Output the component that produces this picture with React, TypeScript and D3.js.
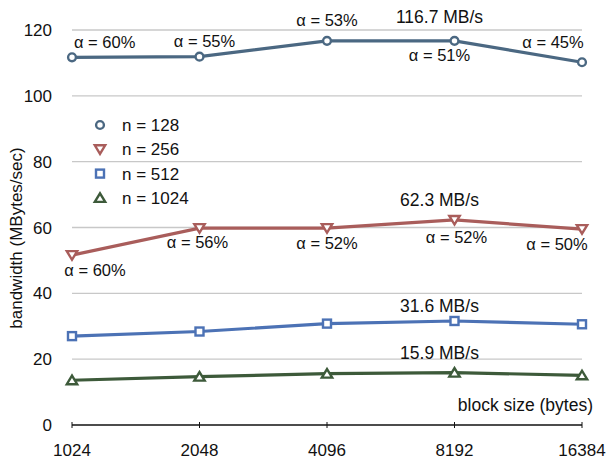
import React from "react";
import * as d3 from "d3";

const blockSizes = ["1024", "2048", "4096", "8192", "16384"];
const yTicks = [0, 20, 40, 60, 80, 100, 120];
const seriesNames = ["n = 128", "n = 256", "n = 512", "n = 1024"];
const n128 = [111.7, 111.9, 116.7, 116.7, 110.2];
const n256 = [51.6, 59.8, 59.8, 62.3, 59.5];
const n512 = [27.0, 28.4, 30.8, 31.6, 30.6];
const n1024 = [13.6, 14.7, 15.6, 15.9, 15.1];
const colors = ["#4b6882", "#a95d5b", "#4c72b5", "#3d5a3a"];
const markers = ["circle", "triangleDown", "square", "triangleUp"];

// annotations: [seriesIndex, pointIndex, text, dx, dy, anchor, big]
const annotations: [number, number, string, number, number, string, boolean][] = [
  [0, 0, "α = 60%", 2, -9.5, "start", false],
  [0, 1, "α = 55%", 5, -9.5, "middle", false],
  [0, 2, "α = 53%", 0, -15, "middle", false],
  [0, 3, "116.7 MB/s", -15, -18, "middle", true],
  [0, 3, "α = 51%", -15, 20, "middle", false],
  [0, 4, "α = 45%", -29, -14, "middle", false],
  [1, 0, "α = 60%", 23, 21, "middle", false],
  [1, 1, "α = 56%", -2, 20, "middle", false],
  [1, 2, "α = 52%", 0, 21, "middle", false],
  [1, 3, "62.3 MB/s", -15, -14, "middle", true],
  [1, 3, "α = 52%", 2, 23, "middle", false],
  [1, 4, "α = 50%", -25, 21, "middle", false],
  [2, 3, "31.6 MB/s", -15, -9, "middle", true],
  [3, 3, "15.9 MB/s", -15, -14, "middle", true],
];

const W = 610, H = 459;

function Marker({ type, x, y, color }: { type: string; x: number; y: number; color: string }) {
  const sw = 2.4;
  if (type === "circle")
    return <circle cx={x} cy={y} r={3.9} fill="white" stroke={color} strokeWidth={sw} />;
  if (type === "square")
    return <rect x={x - 4} y={y - 4} width={8} height={8} fill="white" stroke={color} strokeWidth={sw} />;
  if (type === "triangleDown")
    return <path d={`M${x - 5.2},${y - 4} L${x + 5.2},${y - 4} L${x},${y + 4.6} Z`} fill="white" stroke={color} strokeWidth={sw} strokeLinejoin="miter" />;
  return <path d={`M${x - 5.2},${y + 4} L${x + 5.2},${y + 4} L${x},${y - 4.6} Z`} fill="white" stroke={color} strokeWidth={sw} strokeLinejoin="miter" />;
}

export default function App() {
  const series = [n128, n256, n512, n1024];
  const x = d3.scalePoint<string>().domain(blockSizes).range([72, 582]);
  const y = d3.scaleLinear().domain([0, 120]).range([425, 30]);
  const line = d3.line<[string, number]>().x((d) => x(d[0])!).y((d) => y(d[1]));
  const font = "'Liberation Sans', Arial, sans-serif";
  return (
    <svg width={W} height={H} style={{ position: "absolute", left: 0, top: 0, background: "white" }} fontFamily={font}>
      {yTicks.filter((t) => t > 0).map((t) => (
        <line key={t} x1={72} x2={582} y1={y(t)} y2={y(t)} stroke="#c8c8c8" strokeWidth={1.3} />
      ))}
      <line x1={72} x2={582} y1={y(0)} y2={y(0)} stroke="#111" strokeWidth={1.3} />
      {blockSizes.map((b) => (
        <line key={b} x1={x(b)} x2={x(b)} y1={y(0) - 3} y2={y(0) + 3} stroke="#111" strokeWidth={1} />
      ))}
      {yTicks.map((t) => (
        <text key={t} x={52} y={y(t) + 6} textAnchor="end" fontSize={17} fill="#111">{t}</text>
      ))}
      {blockSizes.map((b) => (
        <text key={b} x={x(b)} y={456} textAnchor="middle" fontSize={17} fill="#111">{b}</text>
      ))}
      <text transform={`translate(22,238) rotate(-90)`} textAnchor="middle" fontSize={17} fill="#111">bandwidth (MBytes/sec)</text>
      <text x={593} y={411} textAnchor="end" fontSize={17.5} fill="#111">block size (bytes)</text>
      {series.map((s, i) => {
        const pts = blockSizes.map((b, j) => [b, s[j]] as [string, number]);
        return (
          <g key={i}>
            <path d={line(pts)!} fill="none" stroke={colors[i]} strokeWidth={3.2} />
            {pts.map((p, j) => (
              <Marker key={j} type={markers[i]} x={x(p[0])!} y={y(p[1])} color={colors[i]} />
            ))}
          </g>
        );
      })}
      {annotations.map(([si, pi, txt, dx, dy, anchor, big], k) => (
        <text key={k} x={x(blockSizes[pi])! + dx} y={y(series[si][pi]) + dy} textAnchor={anchor as any} fontSize={big ? 17.5 : 16.5} fill="#111">{txt}</text>
      ))}
      {seriesNames.map((n, i) => (
        <g key={n}>
          <Marker type={markers[i]} x={100} y={125 + i * 24.3} color={colors[i]} />
          <text x={122} y={131 + i * 24.3} fontSize={17} fill="#111">{n}</text>
        </g>
      ))}
    </svg>
  );
}
